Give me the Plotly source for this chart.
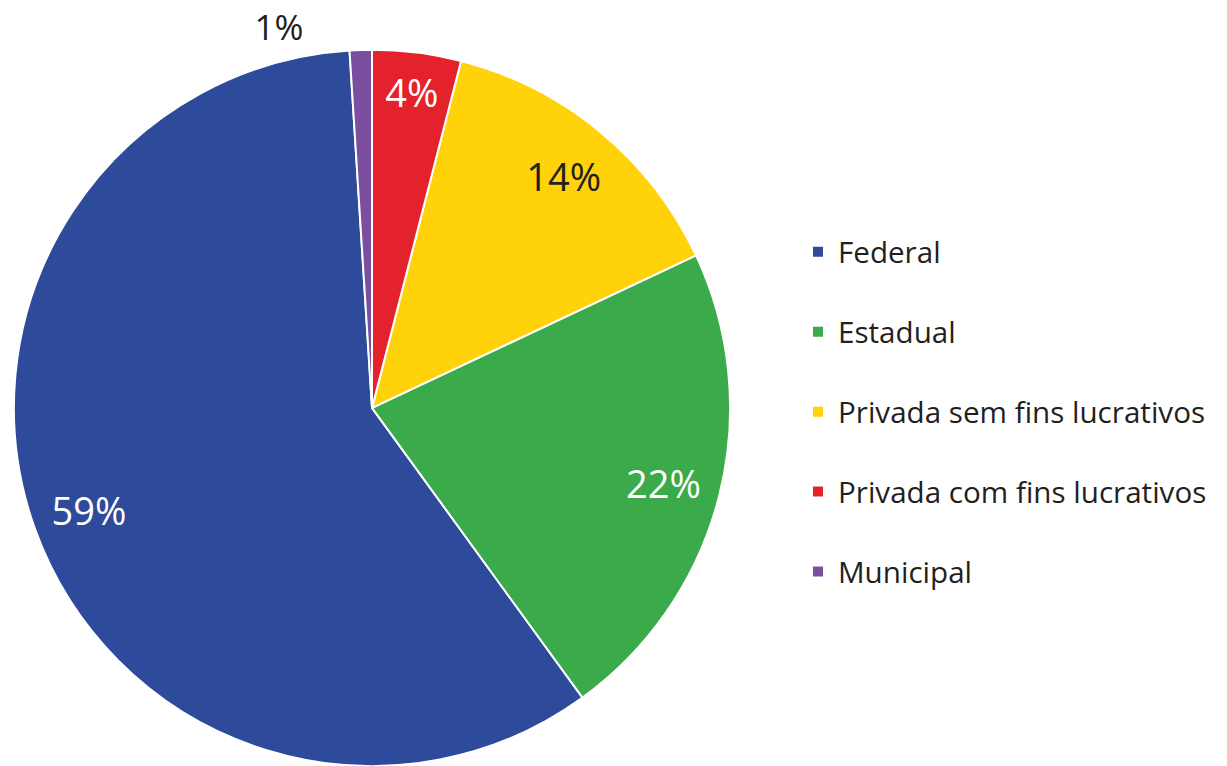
import plotly.graph_objects as go

labels = ["Federal", "Estadual", "Privada sem fins lucrativos", "Privada com fins lucrativos", "Municipal"]
values = [59, 22, 14, 4, 1]
colors = ["#2E4A9B", "#3BAA4A", "#FFD20A", "#E4222C", "#7B4EA0"]
text_colors = ["#FFFFFF", "#FFFFFF", "#231F20", "#FFFFFF", "#231F20"]
text_positions = ["inside", "inside", "inside", "inside", "outside"]

FONT = "Open Sans"
domain = dict(x=[12/1227, 732/1227], y=[0, 0.935])
legend_labels = [l + "<br>" for l in labels]
# small outside label is set off to the left of its slice, as in the reference
text_templates = ["%{percent}"] * 4 + ["%{percent}" + "\u00a0" * 5]

# Base pie: coloured slices + legend
base = go.Pie(
    labels=legend_labels,
    values=values,
    sort=False,
    direction="counterclockwise",
    rotation=144,
    marker=dict(colors=colors, line=dict(color="#FFFFFF", width=2)),
    textinfo="none",
    domain=domain,
    hoverinfo="label+percent",
)

# Transparent ring on top: carries the percentage labels towards the rim
ring = go.Pie(
    labels=legend_labels,
    values=values,
    sort=False,
    direction="counterclockwise",
    rotation=144,
    hole=0.68,
    marker=dict(colors=["rgba(0,0,0,0)"] * len(values), line=dict(width=0)),
    texttemplate=text_templates,
    textposition=text_positions,
    insidetextorientation="horizontal",
    textfont=dict(family=FONT, size=38, color=text_colors),
    outsidetextfont=dict(family=FONT, size=35, color="#231F20"),
    domain=domain,
    showlegend=False,
    hoverinfo="skip",
)

fig = go.Figure([base, ring])

fig.update_layout(
    width=1227, height=766,
    margin=dict(l=0, r=0, t=0, b=0, autoexpand=False),
    paper_bgcolor="#FFFFFF",
    plot_bgcolor="#FFFFFF",
    font=dict(family=FONT, color="#231F20"),
    legend=dict(
        x=798/1227, xanchor="left",
        y=0.705, yanchor="top",
        font=dict(family=FONT, size=29.6, color="#231F20"),
        valign="top",
        bgcolor="rgba(0,0,0,0)",
    ),
)

fig.write_html(
    "out.html",
    config={"displayModeBar": False},
    post_script="document.body.style.margin='0px';",
)
